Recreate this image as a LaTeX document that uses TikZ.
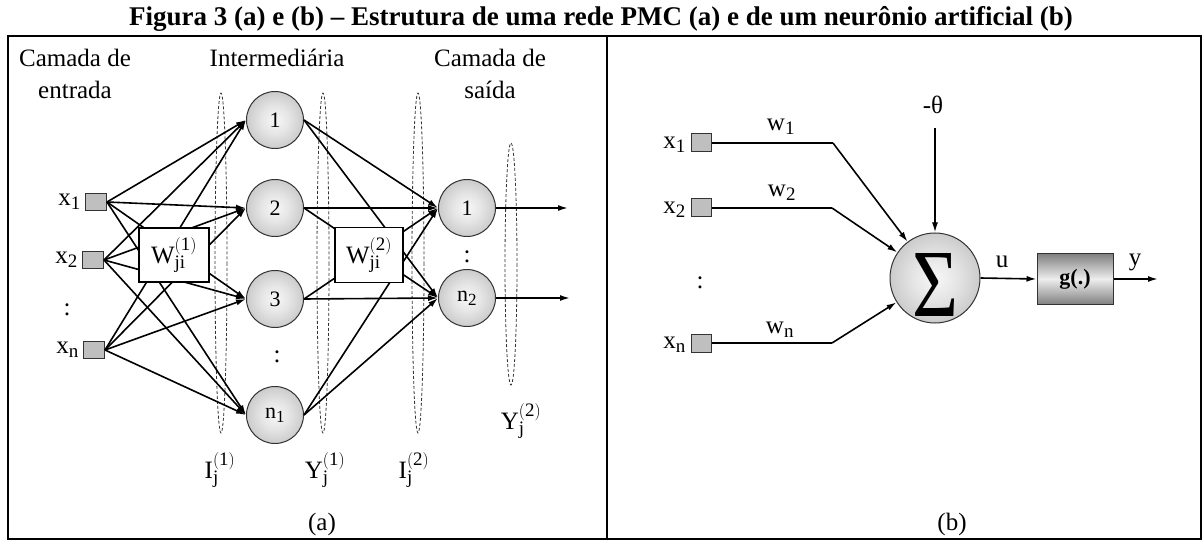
\documentclass[tikz,border=0pt]{standalone}
\usepackage{fontspec}
\setmainfont{Liberation Serif}
\usepackage{graphicx}
\DeclareMathSizes{25}{25}{19}{15}
\DeclareMathSizes{22}{22}{17}{13}
\usetikzlibrary{arrows.meta,shapes.geometric}
\pgfdeclareradialshading{ballshade}{\pgfpoint{0bp}{0bp}}{color(0bp)=(white!97!black); color(12bp)=(white!90!black); color(50bp)=(white!60!black)}
\begin{document}
\begin{tikzpicture}[x=1pt,y=-1pt,
  inbox/.style={draw=black!80, fill=white!75!black, minimum width=21pt, minimum height=17pt, inner sep=0pt, line width=1pt},
  neuron/.style={circle, draw=black!80, line width=1pt, shading=ballshade, minimum size=57pt, inner sep=0pt, font=\fontsize{22}{22}\selectfont},
  wbox/.style={draw, fill=white, line width=1.1pt, minimum width=70pt, minimum height=54pt, inner sep=0pt, font=\fontsize{25}{25}\selectfont},
  conn/.style={line width=1.6pt, -{Latex[length=10pt,width=6pt]}},
  plainline/.style={line width=1.6pt},
  layer/.style={draw=black!80, dash pattern=on 3pt off 2pt, line width=0.8pt},
  lab/.style={font=\fontsize{25}{25}\selectfont, inner sep=0pt},
  hdr/.style={font=\fontsize{25}{25}\selectfont, inner sep=0pt, anchor=base}]
\useasboundingbox (0,0) rectangle (1203,540);
% title and frame
\node[font=\fontsize{27}{27}\selectfont\bfseries, inner sep=0pt] (title) at (601,19) {Figura 3 (a) e (b) – Estrutura de uma rede PMC (a) e de um neurônio artificial (b)};
\draw[line width=1.2pt] (8,36) rectangle (1201,539);
\draw[line width=2pt] (8,36) -- (1201,36);
\draw[line width=1.2pt] (607,36) -- (607,539);

% ---------- panel (a) ----------
\node[hdr] (h1a) at (75,67) {Camada de};
\node[hdr] (h1b) at (75,99) {entrada};
\node[hdr] (h2a) at (277,67) {Intermediária};
\node[hdr] (h3a) at (490,67) {Camada de};
\node[hdr] (h3b) at (490,99) {saída};

\draw[layer] (221,263) ellipse (6 and 170);
\draw[layer] (323,263) ellipse (6 and 170);
\draw[layer] (418,263) ellipse (6 and 170);
\draw[layer] (511,264) ellipse (6 and 121);

\node[inbox] (x1) at (96,202) {};
\node[inbox] (x2) at (93,260) {};
\node[inbox] (xn) at (94,350) {};
\node[lab, anchor=east] (lx1) at (81,202) {x$_{\mathrm{1}}$};
\node[lab, anchor=east] (lx2) at (78,260) {x$_{\mathrm{2}}$};
\node[lab, anchor=east] (lxn) at (79,350) {x$_{\mathrm{n}}$};
\node[lab] (dx) at (67,310) {:};

\node[neuron] (h1) at (275,120) {1};
\node[neuron] (h2) at (275,208) {2};
\node[neuron] (h3) at (275,299) {3};
\node[neuron] (hn) at (275,415) {n$_{\mathrm{1}}$};
\node[lab] (dh) at (277,357) {:};

\node[neuron] (o1) at (467,208) {1};
\node[neuron] (on) at (467,298) {n$_{\mathrm{2}}$};
\node[lab] (do) at (467,257) {:};

\foreach \i in {x1,x2,xn}
  \foreach \h in {h1,h2,h3,hn}
    \draw[conn] (\i.east) -- (\h.west);
\foreach \h in {h1,h2,h3,hn}
  \foreach \o in {o1,on}
    \draw[conn] (\h.east) -- (\o.west);

\coordinate (e1) at (568,208);
\coordinate (e2) at (570,298);
\draw[conn] (o1.east) -- (e1);
\draw[conn] (on.east) -- (e2);

\node[wbox] (w1) at (174,255) {W$_{\mathrm{ji}}^{\mathrm{(1)}}$};
\node[wbox, minimum width=68pt, minimum height=55pt] (w2) at (369,255) {W$_{\mathrm{ji}}^{\mathrm{(2)}}$};

\node[lab] (li1) at (220,470) {I$_{\mathrm{j}}^{\mathrm{(1)}}$};
\node[lab] (ly1) at (325,470) {Y$_{\mathrm{j}}^{\mathrm{(1)}}$};
\node[lab] (li2) at (414,470) {I$_{\mathrm{j}}^{\mathrm{(2)}}$};
\node[lab] (ly2) at (521,421) {Y$_{\mathrm{j}}^{\mathrm{(2)}}$};
\node[lab] (capa) at (322,524) {(a)};

% ---------- panel (b) ----------
\node[inbox, minimum width=20pt, minimum height=18pt] (b1) at (701,143) {};
\node[inbox, minimum width=20pt, minimum height=18pt] (b2) at (701,208) {};
\node[inbox, minimum width=20pt, minimum height=18pt] (bn) at (701,343) {};
\node[lab, anchor=east] (lb1) at (686,145) {x$_{\mathrm{1}}$};
\node[lab, anchor=east] (lb2) at (686,210) {x$_{\mathrm{2}}$};
\node[lab, anchor=east] (lbn) at (686,345) {x$_{\mathrm{n}}$};
\node[lab] (db) at (700,283) {:};

\node[circle, draw=black!80, line width=1pt, shading=ballshade, minimum size=90pt, inner sep=0pt] (sum) at (935,278) {};
\node[inner sep=0pt] (sig) at (935,285) {\resizebox{46pt}{63pt}{Σ}};

\coordinate (c1) at (833,143);
\coordinate (c2) at (832,208);
\coordinate (cn) at (832,343);
\draw[plainline] (b1.east) -- (c1);
\draw[plainline] (b2.east) -- (c2);
\draw[plainline] (bn.east) -- (cn);
\draw[conn] (c1) -- (sum);
\draw[conn] (c2) -- (sum);
\draw[conn] (cn) -- (sum);
\node[lab] (lw1) at (781,127) {w$_{\mathrm{1}}$};
\node[lab] (lw2) at (782,193) {w$_{\mathrm{2}}$};
\node[lab] (lwn) at (780,330) {w$_{\mathrm{n}}$};

\node[lab] (th) at (933,105) {-θ};
\coordinate (tt) at (935,128);
\draw[conn] (tt) -- (sum.north);

\node[draw=black!80, line width=1pt, top color=white!50!black, bottom color=white!50!black, middle color=white!93!black, minimum width=76pt, minimum height=51pt, inner sep=0pt, font=\fontsize{22}{22}\selectfont\bfseries] (g) at (1075,279) {g(.)};
\draw[conn] (sum.east) -- (g.west);
\node[lab] (lu) at (1002,262) {u};
\coordinate (ye) at (1158,279);
\draw[conn] (g.east) -- (ye);
\node[lab] (lyy) at (1135,262) {y};
\node[lab] (capb) at (952,524) {(b)};
\end{tikzpicture}
\end{document}
